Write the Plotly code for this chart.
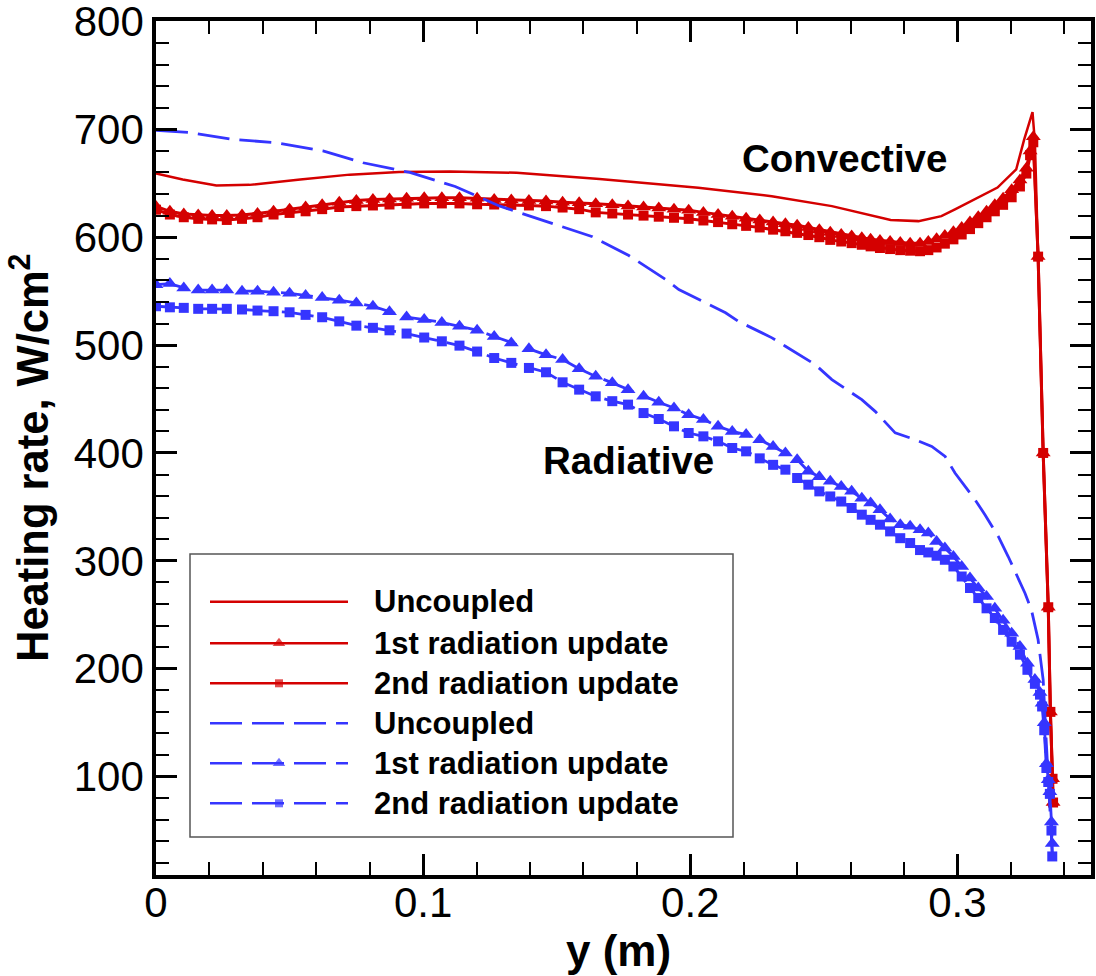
import plotly.graph_objects as go

FONT = "Liberation Sans, Arial, sans-serif"
RED = "#d40000"
BLUE = "#3535ff"

# ---------------- data ----------------
x_conv = [0.0000, 0.0052, 0.0104, 0.0158, 0.0210, 0.0265, 0.0322, 0.0380, 0.0440, 0.0500,
          0.0560, 0.0622, 0.0686, 0.0750, 0.0812, 0.0874, 0.0938, 0.1004, 0.1070, 0.1136,
          0.1202, 0.1266, 0.1330, 0.1396, 0.1460, 0.1522, 0.1584, 0.1646, 0.1708, 0.1767,
          0.1825, 0.1882, 0.1939, 0.1994, 0.2049, 0.2104, 0.2157, 0.2209, 0.2260, 0.2310,
          0.2356, 0.2400, 0.2442, 0.2483, 0.2524, 0.2565, 0.2604, 0.2642, 0.2675, 0.2710,
          0.2748, 0.2786, 0.2823, 0.2860, 0.2891, 0.2922, 0.2953, 0.2985, 0.3016, 0.3047,
          0.3078, 0.3109, 0.3140, 0.3171, 0.3203, 0.3234,
          0.3258, 0.3272, 0.3284, 0.3302, 0.3321, 0.3340, 0.3348, 0.3356, 0.3358]

x_rad = [0.0000, 0.0052, 0.0104, 0.0158, 0.0210, 0.0265, 0.0322, 0.0380, 0.0440, 0.0500,
         0.0560, 0.0622, 0.0686, 0.0750, 0.0812, 0.0874, 0.0938, 0.1004, 0.1070, 0.1136,
         0.1202, 0.1266, 0.1330, 0.1396, 0.1460, 0.1522, 0.1584, 0.1646, 0.1708, 0.1767,
         0.1825, 0.1882, 0.1939, 0.1994, 0.2049, 0.2104, 0.2157, 0.2209, 0.2260, 0.2310,
         0.2356, 0.2400, 0.2442, 0.2483, 0.2524, 0.2565, 0.2604, 0.2642, 0.2675, 0.2710,
         0.2748, 0.2786, 0.2823, 0.2860, 0.2891, 0.2922, 0.2953, 0.2985, 0.3016, 0.3047,
         0.3078, 0.3109, 0.3140, 0.3171, 0.3203, 0.3234,
         0.3262, 0.3290, 0.3309, 0.3317, 0.3325, 0.3333, 0.3340, 0.3346, 0.3352, 0.3355]

# Convective, uncoupled
x_conv_unc = [0.0, 0.01, 0.0226, 0.035, 0.054, 0.0725, 0.091, 0.11, 0.135, 0.166,
              0.203, 0.2305, 0.253, 0.263, 0.275, 0.2854, 0.294, 0.2991, 0.305, 0.315,
              0.322, 0.325, 0.3281, 0.3290, 0.3302, 0.3321, 0.3340, 0.3348, 0.3356, 0.3358]
conv_unc = [659, 653.5, 648, 648.5, 653.5, 658, 660.5, 661, 659.7, 654,
            645.8, 638, 628.8, 623, 616, 614.9, 619.5, 625.7, 633.4, 646,
            662.8, 690.6, 716, 688, 582, 400, 257, 160, 98, 76]

# Convective, 1st radiation update
conv_1st = [628.5, 624, 621.5, 620.5, 620, 620, 620.5, 622, 624, 626,
            628, 630, 632.5, 634, 635, 635.5, 636, 636.5, 636.5, 636.5,
            636, 635, 634.5, 634, 633.5, 632.5, 632, 631, 630, 629,
            628, 627, 626, 625, 623, 621, 619.5, 617.5, 616, 614,
            612.5, 611, 609, 607, 604.5, 602.5, 601, 599.5, 598, 597,
            596, 595, 594.5, 594.5, 596, 598.5, 601.5, 605, 609, 614,
            619, 624, 630, 636, 644, 653,
            664, 680, 693, 582, 400, 257, 160, 98, 76]

# Convective, 2nd radiation update
conv_2nd = [625.5, 621, 618.5, 617, 616.5, 616, 617, 618.5, 621, 622.5,
            624, 626, 628, 628.8, 629.4, 630.3, 631, 631.3, 631.3, 631.3,
            630.5, 630.3, 630, 629.4, 628.8, 627.5, 626, 623, 622, 621,
            620, 619, 618, 617, 615.5, 614, 612, 610.5, 609, 607,
            605.5, 604, 602, 600, 597.5, 596, 594.5, 593, 591.5, 590,
            589, 588, 587.5, 587, 588, 590.5, 594, 598, 602.5, 607.5,
            613, 618.5, 624, 630, 637, 647,
            659, 676, 688, 582, 400, 257, 160, 98, 76]

# Radiative, uncoupled
x_rad_unc = [0.0, 0.0127, 0.029, 0.045, 0.0625, 0.0775, 0.095, 0.112, 0.1285, 0.147,
             0.1634, 0.177, 0.1908, 0.1957, 0.2132, 0.218, 0.2306, 0.2356, 0.2467, 0.253,
             0.2642, 0.2692, 0.2767, 0.2842, 0.2904, 0.2954, 0.2991, 0.3066, 0.3103, 0.3153,
             0.319, 0.3253, 0.3277, 0.3302, 0.3321, 0.3333, 0.3345, 0.3355]
rad_unc = [699, 697, 690.6, 687.6, 680, 669, 660, 647, 629, 613.6,
           600.4, 583, 560.8, 551.5, 530, 522, 506.7, 498.9, 482, 468,
           449.4, 438.6, 418.6, 412.3, 406, 396.8, 381.4, 356.7, 342.8, 322.6,
           304, 270, 254.6, 226.8, 189.7, 130, 80, 30]

# Radiative, 1st radiation update
rad_1st = [556, 557, 553, 551, 551, 551, 550, 550, 549, 548,
           546, 544, 541.6, 539, 536, 531, 526, 523.7, 521, 517.4,
           513.8, 508, 502, 496.5, 491, 486.6, 478, 471, 465, 458.7,
           452.5, 447, 441.7, 435.5, 431, 424.7, 420, 417, 412.3, 406,
           400, 393.8, 383, 378, 373.7, 369, 364.4, 358, 353.6, 347.4,
           338.8, 333.5, 332, 328.8, 325.8, 318, 311.9, 304, 294.8, 284,
           274.8, 267, 256, 245, 233, 220.6,
           205, 190, 178, 168, 150, 112, 97, 86, 58, 38]

# Radiative, 2nd radiation update
rad_2nd = [536, 535, 534.5, 533.6, 533.6, 533.6, 533, 532, 531.4, 530.4,
           528, 525.8, 522, 518, 516, 513.7, 510.7, 507, 503.5, 499.5,
           494, 488, 483.5, 478.8, 474.8, 465.5, 458.7, 452.5, 448, 444.8,
           437, 431.5, 424.7, 418.5, 415.4, 410.8, 404.6, 401.5, 395, 389,
           384.5, 376.8, 370.6, 364.4, 359.7, 355, 349, 342.8, 338, 333.5,
           327.3, 321, 316.5, 310, 307.8, 304.7, 301, 294.8, 285.5, 274.8,
           265.5, 256, 247, 236, 225, 213,
           199, 186, 176, 165, 143, 108, 95, 84, 50, 26]

legend_labels = ["Uncoupled", "1st radiation update", "2nd radiation update",
                 "Uncoupled", "1st radiation update", "2nd radiation update"]

# ---------------- styles ----------------
DASH = "32px,10px"
styles = [
    dict(color=RED, dash="solid", symbol=None, width=2.5),
    dict(color=RED, dash="solid", symbol="triangle-up", width=3),
    dict(color=RED, dash="solid", symbol="square", width=3),
    dict(color=BLUE, dash=DASH, symbol=None, width=2.8),
    dict(color=BLUE, dash=DASH, symbol="triangle-up", width=2.8),
    dict(color=BLUE, dash=DASH, symbol="square", width=2.8),
]
sizes = {"triangle-up": 13, "square": 10}

series = [
    (x_conv_unc, conv_unc),
    (x_conv, conv_1st),
    (x_conv, conv_2nd),
    (x_rad_unc, rad_unc),
    (x_rad, rad_1st),
    (x_rad, rad_2nd),
]

fig = go.Figure()
for (xs, ys), st, name in zip(series, styles, legend_labels):
    if st["symbol"] is None:
        fig.add_trace(go.Scatter(x=xs, y=ys, mode="lines", name=name, showlegend=False,
                                 line=dict(color=st["color"], width=st["width"], dash=st["dash"])))
    else:
        fig.add_trace(go.Scatter(x=xs, y=ys, mode="lines+markers", name=name, showlegend=False,
                                 line=dict(color=st["color"], width=st["width"], dash=st["dash"]),
                                 marker=dict(symbol=st["symbol"], size=sizes[st["symbol"]],
                                             color=st["color"], line=dict(width=0))))

# ---------------- custom legend (plot-area fractions) ----------------
L, T, R, B = 156, 21, 1091, 875
PW, PH = float(R - L), float(B - T)
def fx(px):
    return (px - L) / PW
def fy(py):
    return (B - py) / PH

row_py = [601.7, 643.3, 683.3, 723.3, 763.3, 803.3]
lx0, lxm, lx1 = fx(210), fx(279), fx(348)
for st, py, lab in zip(styles, row_py, legend_labels):
    yy = fy(py)
    msize = [0, sizes[st["symbol"]] - 2, 0] if st["symbol"] else [0, 0, 0]
    fig.add_trace(go.Scatter(
        x=[lx0, lxm, lx1], y=[yy, yy, yy], xaxis="x2", yaxis="y2",
        mode="lines+markers", showlegend=False, hoverinfo="skip",
        line=dict(color=st["color"], width=2.5, dash=st["dash"]),
        marker=dict(symbol=st["symbol"] or "circle", size=msize, color=st["color"],
                    line=dict(width=0))))
    fig.add_annotation(x=fx(372), y=yy, xref="paper", yref="paper", text=lab,
                       showarrow=False, xanchor="left", yanchor="middle",
                       font=dict(family=FONT, size=31, color="black", weight="bold"))

fig.add_shape(type="rect", xref="paper", yref="paper",
              x0=fx(190), x1=fx(733), y0=fy(837), y1=fy(554),
              line=dict(color="#555555", width=1.5), fillcolor="white", layer="below")

fig.add_annotation(x=0.2578, y=673, text="Convective", showarrow=False,
                   font=dict(family=FONT, size=38.5, color="black", weight="bold"))
fig.add_annotation(x=0.1767, y=393, text="Radiative", showarrow=False,
                   font=dict(family=FONT, size=38.5, color="black", weight="bold"))

# axis titles as annotations for exact placement
fig.add_annotation(x=fx(618), y=fy(950), xref="paper", yref="paper", text="y (m)",
                   showarrow=False, xanchor="center", yanchor="middle",
                   font=dict(family=FONT, size=44, color="black", weight="bold"))
fig.add_annotation(x=fx(29), y=fy(458), xref="paper", yref="paper",
                   text="Heating rate, W/cm<sup>2</sup>", textangle=-90,
                   showarrow=False, xanchor="center", yanchor="middle",
                   font=dict(family=FONT, size=43.5, color="black", weight="bold"))

axis_common = dict(
    ticks="inside", ticklen=21, tickwidth=3, tickcolor="black",
    showline=True, linewidth=3.5, linecolor="black", mirror="allticks",
    showgrid=False, zeroline=False, automargin=False, ticklabeloverflow="allow",
    tickfont=dict(family=FONT, size=42, color="black"),
)

fig.update_layout(
    width=1096, height=976,
    margin=dict(l=L, r=1096 - R, t=T, b=976 - B),
    paper_bgcolor="white", plot_bgcolor="white",
    showlegend=False,
    font=dict(family=FONT, color="black"),
    xaxis=dict(range=[0, 0.35], tick0=0, dtick=0.1, ticklabelstandoff=-12,
               minor=dict(dtick=0.02, ticks="inside", ticklen=13, tickwidth=1.5,
                          tickcolor="black", showgrid=False),
               **axis_common),
    yaxis=dict(range=[8.8, 800.4], tickmode="array",
               tickvals=[100, 200, 300, 400, 500, 600, 700, 800],
               ticktext=["100", "200", "300", "400", "500", "600", "700", "800"],
               minor=dict(dtick=20, tick0=0, ticks="inside", ticklen=13, tickwidth=1.5,
                          tickcolor="black", showgrid=False),
               **axis_common),
    xaxis2=dict(overlaying="x", anchor="y2", range=[0, 1], visible=False),
    yaxis2=dict(overlaying="y", anchor="x2", range=[0, 1], visible=False),
)

fig.write_html("out.html", config={"displayModeBar": False},
               post_script="document.body.style.margin='0px';document.body.style.overflow='hidden';")
